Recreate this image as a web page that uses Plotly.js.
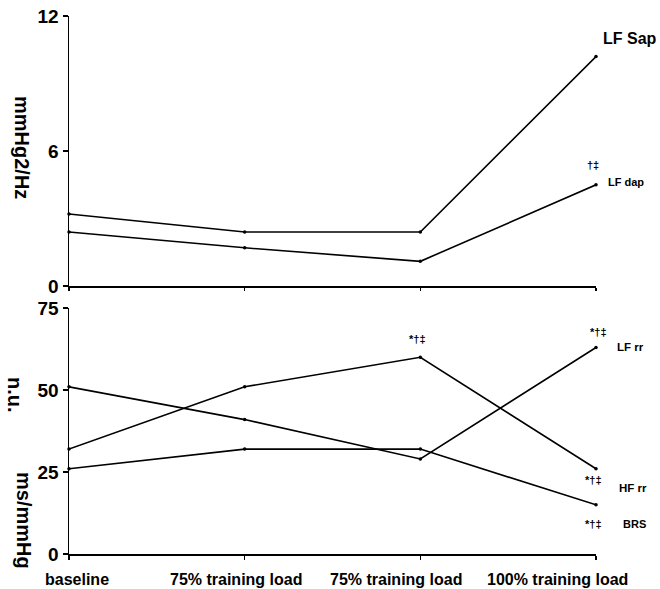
<!DOCTYPE html>
<html><head><meta charset="utf-8">
<script src="https://cdn.plot.ly/plotly-3.0.1.min.js"></script>
<style>body{margin:0;background:#fff}#c{width:660px;height:589px}</style>
</head><body><div id="c"></div>
<script>
const categories = ["baseline", "75% training load", "75% training load", "100% training load"];
const lfSap = [3.2, 2.4, 2.4, 10.2];
const lfDap = [2.4, 1.7, 1.1, 4.5];
const lfRR = [51, 41, 29, 63];
const hfRR = [32, 51, 60, 26];
const brs = [26, 32, 32, 15];
const topTicks = [0, 6, 12];
const bottomTicks = [0, 25, 50, 75];
const xi = [0, 1, 2, 3];

const F = "Liberation Sans, Arial, sans-serif";
function tr(y, xa, ya) {
  return {x: xi, y: y, xaxis: xa, yaxis: ya, mode: "lines+markers",
    line: {color: "#000", width: 1.6}, marker: {color: "#000", size: 3.5},
    cliponaxis: false, showlegend: false, hoverinfo: "skip"};
}
const data = [
  tr(lfSap, "x", "y"), tr(lfDap, "x", "y"),
  tr(lfRR, "x2", "y2"), tr(hfRR, "x2", "y2"), tr(brs, "x2", "y2")
];
const ax = {range: [0, 3], showgrid: false, zeroline: false, showline: true,
  linecolor: "#000", linewidth: 1.5, tickvals: xi, ticks: "outside", tickcolor: "#000",
  tickwidth: 1.3, showticklabels: false};
const yax = {showgrid: false, zeroline: false, showline: true, linecolor: "#000",
  linewidth: 1.5, ticks: "outside", ticklen: 5, tickcolor: "#000", tickwidth: 1.3,
  tickfont: {family: F, size: 19, color: "#000", weight: "bold"}};
function f(s) { return {family: F, size: s, color: "#000", weight: "bold"}; }
function ann(px, py, text, size, extra) {
  return Object.assign({x: (px - 69) / 527, y: (554 - py) / 538, xref: "paper", yref: "paper",
    xanchor: "center", yanchor: "middle",
    text: text, showarrow: false, font: f(size)}, extra || {});
}
const sig = "*†‡";
const annotations = [
  ann(601, 39, "LF Sap", 16, {xanchor: "left"}),
  ann(593, 165, "†‡", 11),
  ann(606, 182, "LF dap", 11, {xanchor: "left"}),
  ann(417, 339, sig, 11),
  ann(598, 332, sig, 11),
  ann(615, 347, "LF rr", 11.5, {xanchor: "left"}),
  ann(593, 480, sig, 11),
  ann(617, 488, "HF rr", 11.5, {xanchor: "left"}),
  ann(593, 524, sig, 11),
  ann(621, 524, "BRS", 11, {xanchor: "left"}),
  ann(22, 147, "mmHg2/Hz", 20, {textangle: 90}),
  ann(15, 395, "n.u.", 20, {textangle: 90}),
  ann(24, 520, "ms/mmHg", 20, {textangle: 90}),
  ann(77, 579, categories[0], 16),
  ann(236, 579, categories[1], 16),
  ann(396, 579, categories[2], 16),
  ann(557, 579, categories[3], 16)
];
const layout = {
  width: 660, height: 589, paper_bgcolor: "#fff", plot_bgcolor: "#fff",
  margin: {l: 69, r: 64, t: 16, b: 35},
  xaxis: Object.assign({}, ax, {domain: [0, 1], anchor: "y", ticklen: 3}),
  yaxis: Object.assign({}, yax, {domain: [0.498, 1], range: [0, 12], tickvals: topTicks, anchor: "x"}),
  xaxis2: Object.assign({}, ax, {domain: [0, 1], anchor: "y2", ticklen: 4}),
  yaxis2: Object.assign({}, yax, {domain: [0, 0.457], range: [0, 75], tickvals: bottomTicks, anchor: "x2"}),
  annotations: annotations
};
Plotly.newPlot("c", data, layout, {displayModeBar: false, staticPlot: true});
</script></body></html>
